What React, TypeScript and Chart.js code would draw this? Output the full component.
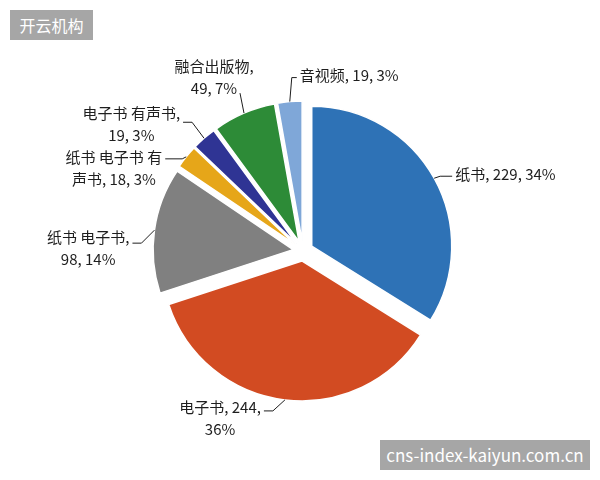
import React, { useEffect, useRef } from "react";
import { Chart, registerables } from "chart.js";

Chart.register(...registerables);

const categories = ["纸书", "电子书", "纸书 电子书", "纸书电子书有声书", "电子书 有声书", "融合出版物", "音视频"];
const counts = [229, 244, 98, 18, 19, 49, 19];
const percents = ["34%", "36%", "14%", "3%", "3%", "7%", "3%"];
const labelLines = [
  ["纸书, 229, 34%"],
  ["电子书, 244,", "36%"],
  ["纸书 电子书,", "98, 14%"],
  ["纸书 电子书 有", "声书, 18, 3%"],
  ["电子书 有声书,", "19, 3%"],
  ["融合出版物,", "49, 7%"],
  ["音视频, 19, 3%"],
];
const colors = ["#2E72B6", "#D24B22", "#808080", "#E6A619", "#2F3494", "#2D8B37", "#7FA7D8"];

// leader/label layout relative to each slice's outer edge point
const labelLayout = [
  { d1: [6, -2], h: 12, mode: "left", ty: -2 },
  { d1: [-12, 11], h: -9, mode: "rightOfFirst", ty: -4 },
  { d1: [-13, 13], h: -9, mode: "rightOfFirst", ty: -6 },
  { d1: [-4, 2], h: -17, mode: "rightOfFirst", ty: -2 },
  { d1: [-12, -16], h: -9, mode: "rightOfFirst", ty: -9 },
  { d1: [-4, -20], h: 0, mode: "above", cx: -26, ty: -5 },
  { d1: [2, -24], h: 5, mode: "left", ty: -2 },
];

const EXPLODE = 10;
const FONT = '15px "Noto Sans CJK SC", "Noto Sans", sans-serif';
const LINE_H = 22;

const explodePlugin = {
  id: "explode",
  beforeDatasetDraw(chart: any, args: any) {
    const ctx = chart.ctx;
    const meta = args.meta;
    meta.data.forEach((arc: any) => {
      const p = arc.getProps(["startAngle", "endAngle"], true);
      const mid = (p.startAngle + p.endAngle) / 2;
      ctx.save();
      ctx.translate(Math.cos(mid) * EXPLODE, Math.sin(mid) * EXPLODE);
      arc.draw(ctx, chart.chartArea);
      ctx.restore();
    });
    return false;
  },
};

const labelPlugin = {
  id: "pieLabels",
  afterDraw(chart: any) {
    const ctx = chart.ctx;
    const meta = chart.getDatasetMeta(0);
    ctx.save();
    ctx.font = FONT;
    ctx.fillStyle = "#1e1e1e";
    ctx.strokeStyle = "#1e1e1e";
    ctx.lineWidth = 1;
    ctx.textBaseline = "middle";
    meta.data.forEach((arc: any, i: number) => {
      const p = arc.getProps(["x", "y", "startAngle", "endAngle", "outerRadius"], true);
      const mid = (p.startAngle + p.endAngle) / 2;
      const r = p.outerRadius + EXPLODE;
      const ex = p.x + Math.cos(mid) * r;
      const ey = p.y + Math.sin(mid) * r;
      const L: any = labelLayout[i];
      const x1 = ex + L.d1[0];
      const y1 = ey + L.d1[1];
      const x2 = x1 + L.h;
      const y2 = y1;
      ctx.beginPath();
      ctx.moveTo(ex, ey);
      ctx.lineTo(x1, y1);
      ctx.lineTo(x2, y2);
      ctx.stroke();
      const lines = labelLines[i];
      if (L.mode === "left") {
        ctx.textAlign = "left";
        lines.forEach((t: string, k: number) => ctx.fillText(t, x2 + 3, y2 + L.ty + k * LINE_H));
      } else if (L.mode === "rightOfFirst") {
        const w0 = ctx.measureText(lines[0]).width;
        const cx = x2 - 3 - w0 / 2;
        ctx.textAlign = "center";
        lines.forEach((t: string, k: number) => ctx.fillText(t, cx, y2 + L.ty + k * LINE_H));
      } else {
        const cx = x2 + L.cx;
        ctx.textAlign = "center";
        const n = lines.length;
        lines.forEach((t: string, k: number) => ctx.fillText(t, cx, y2 + L.ty - (n - 1 - k) * LINE_H));
      }
    });
    ctx.restore();
  },
};

export default function App() {
  const ref = useRef<HTMLCanvasElement>(null);
  useEffect(() => {
    const chart = new Chart(ref.current as HTMLCanvasElement, {
      type: "pie",
      data: {
        labels: categories,
        datasets: [
          {
            data: counts,
            backgroundColor: colors,
            borderColor: "#ffffff",
            borderWidth: 1.5,
            offset: 0,
          },
        ],
      },
      options: {
        animation: false,
        responsive: false,
        radius: 140,
        layout: { padding: { left: 6, top: 22, right: 0, bottom: 0 } },
        plugins: {
          legend: { display: false },
          tooltip: { enabled: false },
        },
      },
      plugins: [explodePlugin, labelPlugin],
    } as any);
    return () => chart.destroy();
  }, []);

  const boxFont = '"Noto Sans CJK SC", "Noto Sans", sans-serif';
  return (
    <div style={{ position: "fixed", left: 0, top: 0, width: 600, height: 480, background: "#ffffff", overflow: "hidden" }}>
      <canvas ref={ref} width={600} height={480} style={{ position: "absolute", left: 0, top: 0, width: 600, height: 480 }} />
      <div
        style={{
          position: "absolute", left: 10, top: 10, width: 83, height: 30,
          background: "#a6a6a6", color: "#ffffff", fontFamily: boxFont, fontSize: 16,
          lineHeight: "30px", textAlign: "center",
        }}
      >
        开云机构
      </div>
      <div
        style={{
          position: "absolute", left: 380, top: 440, width: 210, height: 30,
          background: "#a6a6a6", color: "#ffffff", fontFamily: boxFont, fontSize: 17,
          lineHeight: "30px", textAlign: "center",
        }}
      >
        cns-index-kaiyun.com.cn
      </div>
    </div>
  );
}
